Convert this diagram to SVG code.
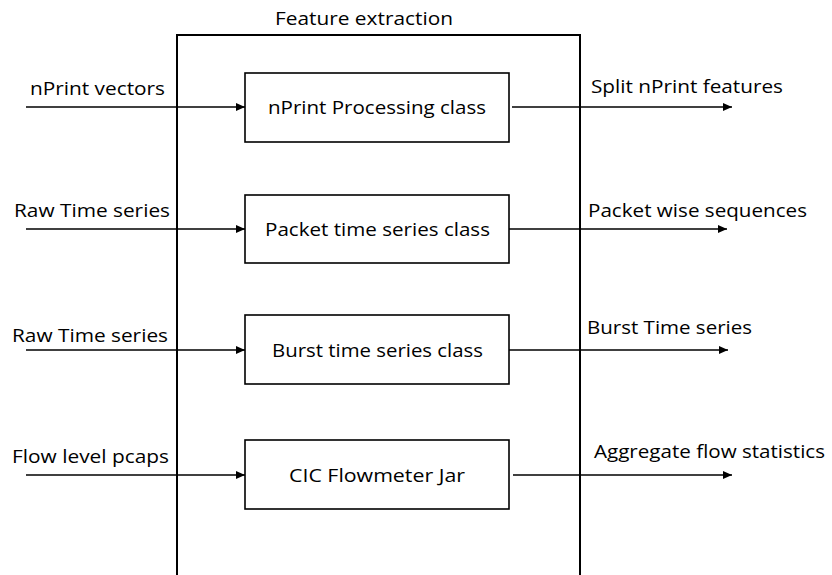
<svg xmlns="http://www.w3.org/2000/svg" width="832" height="575" viewBox="0 0 832 575">
<style>
text{font-family:"Open Sans","Liberation Sans",Arial,sans-serif;font-size:18.5px;fill:#000}
.box{fill:#fff;stroke:#000;stroke-width:1.6}
.outer{fill:none;stroke:#000;stroke-width:2}
.conn{stroke:#000;stroke-width:1.4;fill:none}
.arr{marker-end:url(#ah)}
</style>
<defs>
<marker id="ah" markerUnits="userSpaceOnUse" markerWidth="10" markerHeight="8" refX="9" refY="4" orient="auto">
<path d="M0,0 L9,4 L0,8 Z" fill="#000"/>
</marker>
</defs>
<rect width="832" height="575" fill="#fff"/>
<g id="feature-extraction">
<rect class="outer" x="177" y="35" width="403" height="560"/>
<text x="364" y="25" text-anchor="middle" textLength="178" lengthAdjust="spacingAndGlyphs">Feature extraction</text>
</g>
<g id="connectors">
<line class="conn arr" x1="26" y1="107" x2="245" y2="107"/>
<line class="conn arr" x1="512" y1="107" x2="732" y2="107"/>
<line class="conn arr" x1="26" y1="229" x2="245" y2="229"/>
<line class="conn arr" x1="508" y1="229" x2="727" y2="229"/>
<line class="conn arr" x1="26" y1="350" x2="245" y2="350"/>
<line class="conn arr" x1="509" y1="350" x2="728" y2="350"/>
<line class="conn arr" x1="26" y1="475" x2="245" y2="475"/>
<line class="conn arr" x1="513" y1="475" x2="732" y2="475"/>
</g>
<g id="labels">
<text x="30" y="95" textLength="135" lengthAdjust="spacingAndGlyphs">nPrint vectors</text>
<text x="591" y="93" textLength="192" lengthAdjust="spacingAndGlyphs">Split nPrint features</text>
<text x="14" y="217" textLength="156" lengthAdjust="spacingAndGlyphs">Raw Time series</text>
<text x="588" y="217" textLength="219" lengthAdjust="spacingAndGlyphs">Packet wise sequences</text>
<text x="12" y="342" textLength="156" lengthAdjust="spacingAndGlyphs">Raw Time series</text>
<text x="587" y="334" textLength="165" lengthAdjust="spacingAndGlyphs">Burst Time series</text>
<text x="12" y="463" textLength="157" lengthAdjust="spacingAndGlyphs">Flow level pcaps</text>
<text x="594" y="458" textLength="231" lengthAdjust="spacingAndGlyphs">Aggregate flow statistics</text>
</g>
<g id="nprint-processing">
<rect class="box" x="245" y="73" width="264" height="69"/>
<text x="268" y="114" textLength="218" lengthAdjust="spacingAndGlyphs">nPrint Processing class</text>
</g>
<g id="packet-time-series">
<rect class="box" x="245" y="195" width="264" height="68"/>
<text x="265" y="236" textLength="225" lengthAdjust="spacingAndGlyphs">Packet time series class</text>
</g>
<g id="burst-time-series">
<rect class="box" x="245" y="315" width="264" height="69"/>
<text x="272" y="357" textLength="211" lengthAdjust="spacingAndGlyphs">Burst time series class</text>
</g>
<g id="cic-flowmeter">
<rect class="box" x="245" y="440" width="264" height="69"/>
<text x="289" y="482" textLength="176" lengthAdjust="spacingAndGlyphs">CIC Flowmeter Jar</text>
</g>
</svg>
